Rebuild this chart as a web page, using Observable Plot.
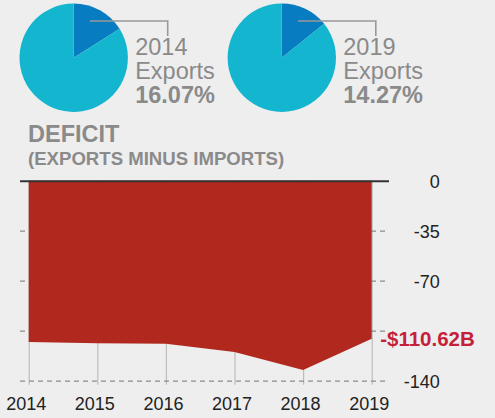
<!DOCTYPE html>
<html>
<head>
<meta charset="utf-8">
<script src="https://cdn.jsdelivr.net/npm/d3@7"></script>
<script src="https://cdn.jsdelivr.net/npm/@observablehq/plot@0.6"></script>
<style>
  html, body { margin: 0; padding: 0; background: #eeeeee; }
  #wrap { position: relative; width: 495px; height: 418px; background: #eeeeee; overflow: hidden; font-family: "Liberation Sans", Arial, sans-serif; }
  #top { position: absolute; left: 0; top: 0; }
  #chart { position: absolute; left: 0; top: 170px; }
</style>
</head>
<body>
<div id="wrap"><div id="top"></div><div id="chart"></div></div>
<script>
// ---- data ----
const pieYears = ["2014", "2019"];
const exportShares = [16.07, 14.27];
const pieLabel = "Exports";
const title = "DEFICIT";
const subtitle = "(EXPORTS MINUS IMPORTS)";

const years = [2014, 2015, 2016, 2017, 2018, 2019];
const deficit = [-112.9, -113.8, -114.1, -119.9, -132.5, -110.62];
const gridValues = [-35, -70, -105, -140];
const tickValues = [0, -35, -70, -140];
const tickLabels = ["0", "-35", "-70", "-140"];
const lastLabel = "-$110.62B";

const lightBlue = "#14b6cf";
const darkBlue = "#087cc0";
const gray = "#8a8a8a";

// ---- pies + headings (d3) ----
const svgTop = d3.select("#top").append("svg")
  .attr("width", 495).attr("height", 170)
  .style("font-family", '"Liberation Sans", Arial, sans-serif');

const pieCx = [73.7, 281.8];
const pieCy = 57.7;
const r = 54.2;
const arc = d3.arc().innerRadius(0).outerRadius(r);
const pie = d3.pie().sort(null).value(d => d);

pieYears.forEach((yr, i) => {
  const share = exportShares[i];
  const g = svgTop.append("g").attr("transform", `translate(${pieCx[i]},${pieCy})`);
  const arcs = pie([share, 100 - share]);
  g.selectAll("path").data(arcs).join("path")
    .attr("d", arc)
    .attr("fill", (d, j) => j === 0 ? darkBlue : lightBlue);
  // leader line
  g.append("path")
    .attr("d", `M16.3,${21 - pieCy} H94 V${36 - pieCy}`)
    .attr("fill", "none").attr("stroke", "#999").attr("stroke-width", 1.6);
  const t = svgTop.append("text").attr("fill", gray).attr("font-size", 23.5)
    .attr("x", pieCx[i] + 61.5);
  t.append("tspan").attr("x", pieCx[i] + 61.5).attr("y", 55).text(yr);
  t.append("tspan").attr("x", pieCx[i] + 61.5).attr("y", 79).text(pieLabel);
  t.append("tspan").attr("x", pieCx[i] + 61.5).attr("y", 103).attr("font-weight", "bold").text(share.toFixed(2) + "%");
});

svgTop.append("text").attr("x", 28).attr("y", 141.7).attr("fill", gray)
  .attr("font-weight", "bold").attr("font-size", 23.5).text(title);
svgTop.append("text").attr("x", 28).attr("y", 165).attr("fill", gray)
  .attr("font-weight", "bold").attr("font-size", 18.6).text(subtitle);

// ---- area chart (Plot) ----
const data = years.map((y, i) => ({year: y, value: deficit[i]}));
const ticks = tickValues.map((v, i) => ({v, label: tickLabels[i]}));

const chart = Plot.plot({
  width: 495,
  height: 248,
  marginTop: 10.7,
  marginBottom: 37.3,
  marginLeft: 28.7,
  marginRight: 123.3,
  style: {background: "transparent", fontFamily: '"Liberation Sans", Arial, sans-serif'},
  x: {type: "linear", domain: [2014, 2019], ticks: years, tickFormat: d => String(d), label: null},
  y: {domain: [-140, 0], label: null, axis: null},
  marks: [
    Plot.ruleX(years, {x: d => d, y1: 0, y2: -140, stroke: "#bdbdbd", strokeWidth: 1.2, insetBottom: -4}),
    Plot.ruleY(gridValues, {y: d => d, stroke: "#8c8c8c", strokeWidth: 1.3, strokeDasharray: "5,4", insetLeft: -8.7, insetRight: -15}),
    Plot.areaY(data, {x: "year", y: "value", fill: "#b0281e", curve: "linear"}),
    Plot.ruleY([0], {stroke: "#333", strokeWidth: 2, insetLeft: -8.7, insetRight: -17.3}),
    Plot.axisX({ticks: years, tickFormat: d => String(d), tickSize: 0, tickPadding: 16, fontSize: 18, fill: "#222", dx: -3, label: null}),
    Plot.text(ticks, {y: "v", text: "label", frameAnchor: "right", dx: 67.5, dy: 1, textAnchor: "end", fontSize: 18, fill: "#222"}),
    Plot.text([deficit[deficit.length - 1]], {x: years[years.length - 1], y: d => d, text: () => lastLabel, textAnchor: "start", dx: 8, dy: 0.5, fontSize: 20.5, fontWeight: "bold", fill: "#c51f3a"})
  ]
});
document.getElementById("chart").appendChild(chart);
</script>
</body>
</html>
